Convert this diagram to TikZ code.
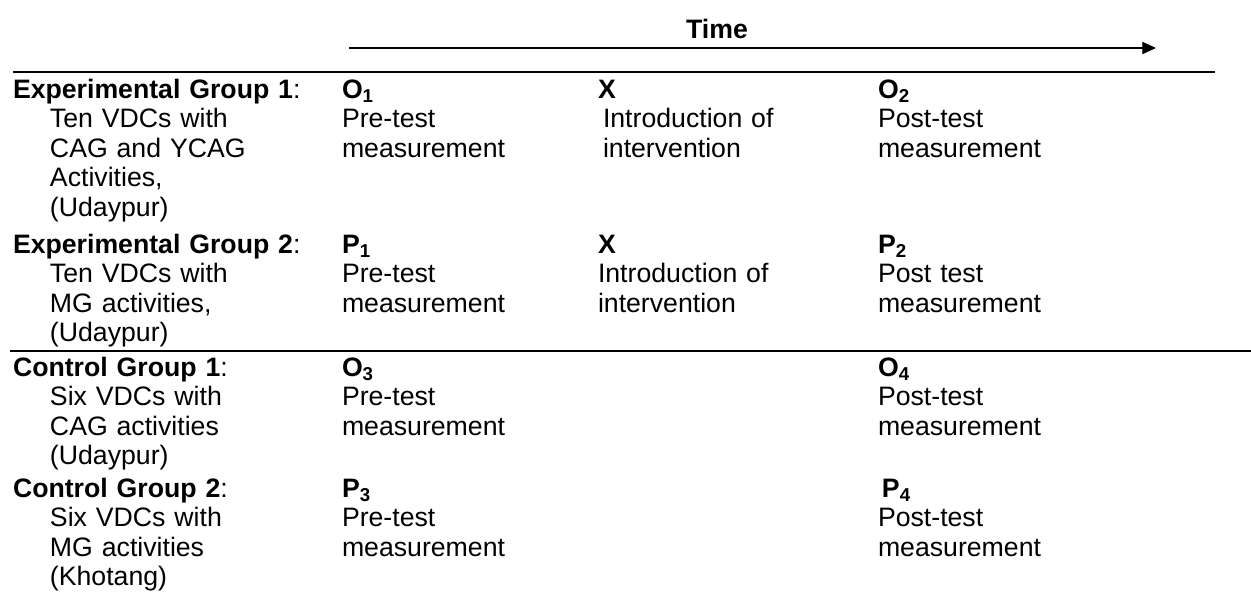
\documentclass[tikz,border=0pt]{standalone}
\usepackage{fontspec}
\setmainfont{Liberation Sans}
\usetikzlibrary{arrows.meta}
\tikzstyle{label} = [inner sep=0pt, outer sep=0pt, font=\fontsize{12.8pt}{14.2pt}\selectfont]
\tikzstyle{group} = [label, anchor=base west, text width=170pt, align=left]
\tikzstyle{cell} = [group, text width=115pt]
\tikzstyle{rule_thick} = [line width=1pt]
\tikzstyle{rule_thin} = [line width=0.7pt]
\tikzstyle{time_arrow} = [line width=0.5pt, -{Triangle[length=6.5pt, width=5.8pt]}]

\begin{document}
\begin{tikzpicture}[x=0.48pt, y=-0.48pt]

    \useasboundingbox (0,0) rectangle (1251,597);

    % time axis
    \node [label, anchor=base, font=\fontsize{12.8pt}{14.2pt}\selectfont\bfseries] (time) at (717,38) {Time};
    \coordinate (time_start) at (349,48);
    \coordinate (time_end) at (1156,48);
    \draw [time_arrow] (time_start) -- (time_end);

    \coordinate (rule1_w) at (13,72);
    \coordinate (rule1_e) at (1215,72);
    \draw [rule_thick] (rule1_w) -- (rule1_e);

    % experimental group 1
    \node [group] (exp1) at (13,98) {\textbf{Experimental Group 1}:};
    \node [group] (exp1_desc) at ([shift={(37,29.6)}]exp1.base west) {Ten VDCs with\\CAG and YCAG\\Activities,\\(Udaypur)};
    \node [cell] (o1) at (342,98) {\textbf{O\textsubscript{1}}\\Pre-test\\measurement};
    \node [cell] (x1) at (598,98) {\textbf{X}\\\hspace*{2.4pt}Introduction of\\\hspace*{2.4pt}intervention};
    \node [cell] (o2) at (878,98) {\textbf{O\textsubscript{2}}\\Post-test\\measurement};

    % experimental group 2
    \node [group] (exp2) at (13,253) {\textbf{Experimental Group 2}:};
    \node [group] (exp2_desc) at ([shift={(37,29.6)}]exp2.base west) {Ten VDCs with\\MG activities,\\(Udaypur)};
    \node [cell] (p1) at (342,253) {\textbf{P\textsubscript{1}}\\Pre-test\\measurement};
    \node [cell] (x2) at (598,253) {\textbf{X}\\Introduction of\\intervention};
    \node [cell] (p2) at (878,253) {\textbf{P\textsubscript{2}}\\Post test\\measurement};

    \coordinate (rule2_w) at (10,351);
    \coordinate (rule2_e) at (1251,351);
    \draw [rule_thin] (rule2_w) -- (rule2_e);

    % control group 1
    \node [group] (ctrl1) at (13,376) {\textbf{Control Group 1}:};
    \node [group] (ctrl1_desc) at ([shift={(37,29.6)}]ctrl1.base west) {Six VDCs with\\CAG activities\\(Udaypur)};
    \node [cell] (o3) at (342,376) {\textbf{O\textsubscript{3}}\\Pre-test\\measurement};
    \node [cell] (o4) at (878,376) {\textbf{O\textsubscript{4}}\\Post-test\\measurement};

    % control group 2
    \node [group] (ctrl2) at (13,497) {\textbf{Control Group 2}:};
    \node [group] (ctrl2_desc) at ([shift={(37,29.6)}]ctrl2.base west) {Six VDCs with\\MG activities\\(Khotang)};
    \node [cell] (p3) at (342,497) {\textbf{P\textsubscript{3}}\\Pre-test\\measurement};
    \node [cell] (p4) at (878,497) {\hspace*{1.9pt}\textbf{P\textsubscript{4}}\\Post-test\\measurement};

\end{tikzpicture}
\end{document}
